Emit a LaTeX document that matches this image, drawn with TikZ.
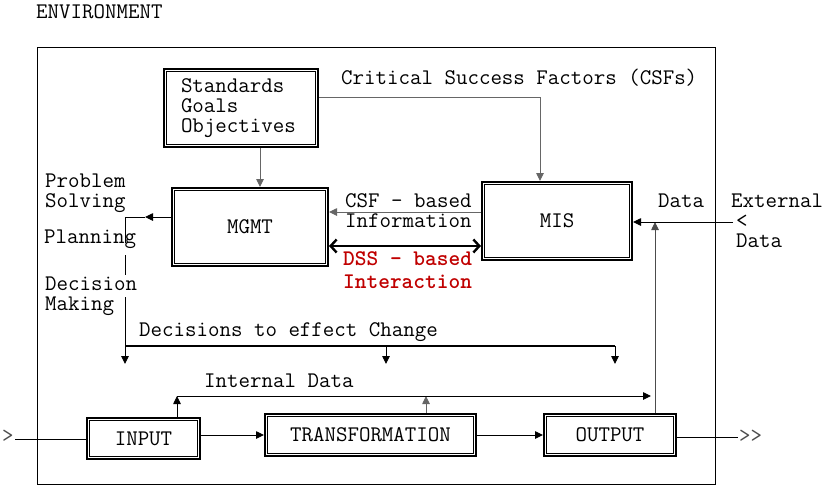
\documentclass[tikz,border=0pt]{standalone}
\usepackage{fontspec}
\usetikzlibrary{arrows.meta}
\definecolor{dssred}{RGB}{192,0,0}
\begin{document}
\begin{tikzpicture}[x=1pt,y=-1pt,
  every node/.style={inner sep=0pt},
  fnt/.style={font=\ttfamily\fontsize{22.3}{20}\selectfont},
  txt/.style={fnt, anchor=base west},
  box/.style={draw, line width=2pt, fnt, inner sep=0pt},
  inner/.style={line width=0.9pt},
  ln/.style={line width=0.9pt},
  gln/.style={ln, draw=black!60},
  arr/.style={ln, -{Triangle[length=8pt,width=7.5pt]}},
  garr/.style={gln, -{Triangle[length=8pt,width=7.5pt]}},
]
\useasboundingbox (0,0) rectangle (826,496);

% environment frame
\node[txt] (env) at (36,18) {ENVIRONMENT};
\draw[line width=1pt] (37,47) rectangle (715,484);

% boxes
\node[box, minimum width=154pt, minimum height=78pt, text width=120pt, align=left] (std) at (241,108) {Standards\\Goals\\Objectives};
\node[box, minimum width=156pt, minimum height=78pt] (mgmt) at (250,227) {MGMT};
\node[box, minimum width=150pt, minimum height=78pt] (mis) at (557,221) {MIS};
\node[box, minimum width=113pt, minimum height=41pt] (inp) at (143.5,438.5) {INPUT};
\node[box, minimum width=211pt, minimum height=42pt] (tr) at (370.5,435) {TRANSFORMATION};
\node[box, minimum width=132pt, minimum height=42pt] (out) at (610,435) {OUTPUT};
\foreach \n in {std,mgmt,mis,inp,tr,out}
  \draw[inner] ([shift={(3.5pt,3.5pt)}]\n.south west) rectangle ([shift={(-3.5pt,-3.5pt)}]\n.north east);

% texts
\node[txt] (csfs) at (341,84) {Critical Success Factors (CSFs)};
\node[txt] (prob) at (45,187) {Problem};
\node[txt] (solv) at (45,207) {Solving};
\node[txt] (plan) at (44,243) {Planning};
\node[txt] (deci) at (45,290) {Decision};
\node[txt] (maki) at (45,310) {Making};
\node[txt] (csfb) at (345,207) {CSF – based};
\node[txt] (info) at (345,227) {Information};
\node[txt, font=\ttfamily\bfseries\fontsize{22.3}{20}\selectfont, text=dssred] (dss1) at (343,265) {DSS – based};
\node[txt, font=\ttfamily\bfseries\fontsize{22.3}{20}\selectfont, text=dssred] (dss2) at (343,288) {Interaction};
\node[txt] (data1) at (658,207) {Data};
\node[txt] (ext1) at (731,207) {External};
\node[txt] (ext2) at (736,227) {<};
\node[txt] (ext3) at (736,247) {Data};
\node[txt] (decs) at (139,336) {Decisions to effect Change};
\node[txt] (intd) at (204,387) {Internal Data};
\node[txt, text=black!70] (inmark) at (2,442) {>};
\node[txt, text=black!70] (outmark) at (739,442) {>>};

% CSFs to MIS
\draw[garr] ([yshift=11pt]std.east) -| ([xshift=-17pt]mis.north);
% standards to MGMT
\draw[garr] ([xshift=19pt]std.south) -- ([xshift=10pt]mgmt.north);
% CSF-based information
\coordinate (csfR) at ([yshift=9pt]mis.west);
\draw[garr] (csfR) -- (csfR -| mgmt.east);
% DSS interaction
\coordinate (dssR) at ([yshift=-25pt]mis.west);
\draw[line width=2.4pt, {Straight Barb[length=6pt,width=13pt]}-{Straight Barb[length=6pt,width=13pt]}] (dssR) -- (dssR -| mgmt.east);

% MGMT to problem solving / decisions
\coordinate (ptip) at (145,217);
\coordinate (pc) at (125,217);
\draw[arr] ([yshift=10pt]mgmt.west) -- (ptip);
\draw[ln] (ptip) -- (pc) -- (125,243);
\draw[ln] (125,255) -- (125,275);
\coordinate (dL) at (125,346);
\coordinate (dM) at (386,346);
\coordinate (dR) at (615,346);
\draw[ln] (125,297) -- (dL);
\draw[line width=1.8pt] (dL) -- (dR);
\draw[arr] (dL) -- (125,364);
\draw[arr] (dM) -- (386,364);
\draw[arr] (dR) -- (615,364);

% internal data
\coordinate (idL) at (177,396);
\coordinate (idT) at (426,396);
\coordinate (idR) at (651,396);
\draw[arr] (idL |- inp.north) -- (idL);
\draw[garr] (idT |- tr.north) -- (idT);
\draw[arr] (idL) -- (idR);

% output to MIS, external data
\coordinate (misIn) at (655,222);
\draw[arr, draw=black!70] (misIn |- out.north) -- (misIn);
\coordinate (ext) at (733,222);
\draw[arr] (ext) -- (ext -| mis.east);

% process chain
\coordinate (inL) at (15,439);
\draw[ln] (inL) -- (inL -| inp.west);
\draw[arr] (inp.east |- tr.west) -- (tr.west);
\draw[arr] (tr.east) -- (out.west);
\coordinate (outR) at (738,437);
\draw[ln] (out.east |- outR) -- (outR);
\end{tikzpicture}
\end{document}
